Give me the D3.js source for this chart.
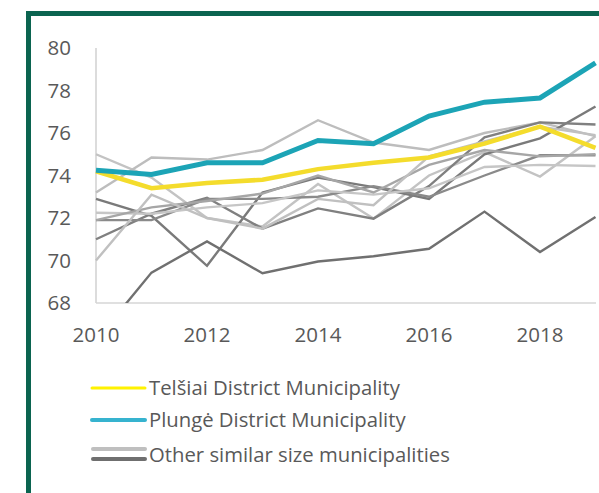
<!DOCTYPE html>
<html><head><meta charset="utf-8">
<script src="https://cdn.jsdelivr.net/npm/d3@7"></script>
<style>
html,body{margin:0;padding:0;background:#fff;overflow:hidden}
text{font-family:"Open Sans",sans-serif;fill:#595959}
</style></head>
<body><svg id="c" width="599" height="493"></svg>
<script>
const years = [2010,2011,2012,2013,2014,2015,2016,2017,2018,2019];
const yTicks = [68,70,72,74,76,78,80];
const xTicks = [2010,2012,2014,2016,2018];
const telsiai = [74.2,73.4,73.65,73.8,74.3,74.6,74.85,75.5,76.3,75.3];
const plunge  = [74.25,74.05,74.6,74.6,75.65,75.5,76.8,77.45,77.65,79.3];
const other1 = [75.0,73.9,72.0,71.6,73.6,71.97,74.0,75.1,73.95,75.85];
const other2 = [73.2,74.85,74.75,75.2,76.6,75.55,75.2,76.0,76.5,75.85];
const other3 = [72.9,72.1,69.75,73.2,73.9,73.45,72.9,75.0,75.75,77.25];
const other4 = [71.0,72.2,72.95,71.5,72.45,71.97,73.5,75.8,76.5,76.4];
const other5 = [71.9,71.9,72.9,72.9,73.0,73.5,73.0,74.0,74.95,74.95];
const other6 = [72.25,72.2,72.5,72.7,73.3,73.1,73.4,74.4,74.5,74.45];
const other7 = [71.9,72.5,72.8,73.15,74.0,73.2,74.5,75.2,74.9,75.0];
const other8 = [70.0,73.1,72.0,71.5,72.9,72.6,74.9,75.6,76.3,75.9];
const other9 = [66.25,69.43,70.9,69.4,69.95,70.2,70.55,72.3,70.4,72.05];
const others = [other1,other2,other3,other4,other5,other6,other7,other8,other9];
const otherShade = ["#c3c3c3","#bdbdbd","#7a7a7a","#808080","#8a8a8a","#c6c6c6","#a6a6a6","#c0c0c0","#707070"];
const legendLabels = ["Telšiai District Municipality","Plungė District Municipality","Other similar size municipalities"];

const svg = d3.select("#c");
const x = d3.scaleLinear().domain([2010,2019]).range([96,595.5]);
const y = d3.scaleLinear().domain([68,80]).range([303,48]);

// frame
svg.append("rect").attr("x",28.5).attr("y",13.5).attr("width",620).attr("height",520)
  .attr("fill","none").attr("stroke","#0b6450").attr("stroke-width",5);

// axes lines
svg.append("line").attr("x1",96).attr("x2",96).attr("y1",48).attr("y2",303).attr("stroke","#d0d0d0").attr("stroke-width",1.5);
svg.append("line").attr("x1",96).attr("x2",596).attr("y1",303).attr("y2",303).attr("stroke","#d6d6d6").attr("stroke-width",1.5);

// y labels
svg.append("g").selectAll("text").data(yTicks).join("text")
  .attr("x",71).attr("y",d=>y(d)).attr("dy","0.36em").attr("text-anchor","end")
  .attr("font-size",20.5).text(d=>d);
// x labels
svg.append("g").selectAll("text").data(xTicks).join("text")
  .attr("x",d=>x(d)).attr("y",342).attr("text-anchor","middle")
  .attr("font-size",20.5).text(d=>d);

svg.append("clipPath").attr("id","pc").append("rect").attr("x",90).attr("y",40).attr("width",520).attr("height",263);
const line = d3.line().x((d,i)=>x(years[i])).y(d=>y(d));
const g = svg.append("g").attr("clip-path","url(#pc)");
others.forEach((s,i)=>{
  g.append("path").attr("d",line(s)).attr("fill","none").attr("stroke",otherShade[i])
   .attr("stroke-width",2.4).attr("stroke-linejoin","miter");
});
g.append("path").attr("d",line(telsiai)).attr("fill","none").attr("stroke","#f4dc2c").attr("stroke-width",4.5);
g.append("path").attr("d",line(plunge)).attr("fill","none").attr("stroke","#1ca4b6").attr("stroke-width",5);

// legend
const lg = svg.append("g");
lg.append("line").attr("x1",92).attr("x2",145).attr("y1",388).attr("y2",388).attr("stroke","#fff200").attr("stroke-width",3).attr("stroke-linecap","round");
lg.append("line").attr("x1",92).attr("x2",145).attr("y1",420).attr("y2",420).attr("stroke","#36b3cf").attr("stroke-width",4).attr("stroke-linecap","round");
lg.append("line").attr("x1",93).attr("x2",145).attr("y1",449).attr("y2",449).attr("stroke","#bfbfbf").attr("stroke-width",4).attr("stroke-linecap","round");
lg.append("line").attr("x1",93).attr("x2",145).attr("y1",459).attr("y2",459).attr("stroke","#6f6f6f").attr("stroke-width",4).attr("stroke-linecap","round");
const ly = [388,420,455];
lg.selectAll("text.l").data(legendLabels).join("text").attr("class","l")
  .attr("x",149).attr("y",(d,i)=>ly[i]).attr("dy","0.36em").attr("font-size",20.3).text(d=>d);
</script></body></html>
